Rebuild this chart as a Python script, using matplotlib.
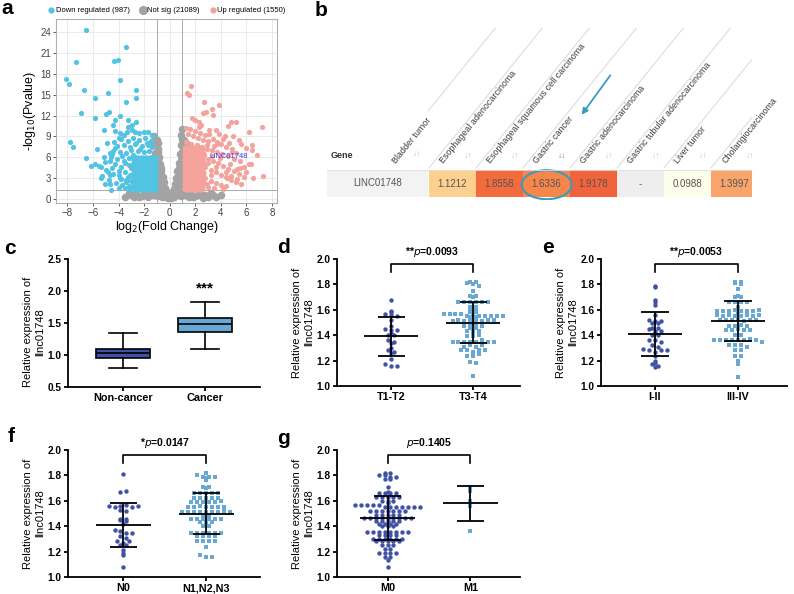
import numpy as np
import matplotlib
matplotlib.use("Agg")
import matplotlib.pyplot as plt
from matplotlib.patches import Rectangle, Ellipse, FancyArrowPatch

plt.rcParams['font.family'] = ['Liberation Sans', 'DejaVu Sans']

W, H = 794, 594

# ---------------- panel a: volcano ----------------
down_x = [-6.58, -3.42, -7.36, -4.36, -4.05, -8.1, -7.85, -3.87, -6.73, -2.62, -4.86, -2.64, -5.84,
          -3.45, -6.94, -5.82, -4.98, -4.75, -4.26, -3.87, -3.27, -2.64, -2.98, -5.17, -4.44, -7.8,
          -7.56, -6.55, -5.72, -4.9, -6.16, -5.88, -5.56, -5.4, -5.06, -5.17, -5.3, -5.38, -4.65,
          -4.78, -5.04, -4.65, -4.62, -4.0, -3.84, -3.42, -4.65, -4.26, -4.39, -4.0, -3.61, -3.34,
          -2.95, -2.44, -2.05, -1.66, -1.39,
          -3.8, -3.3, -2.9, -2.4, -1.9, -1.5, -4.1, -3.6, -3.1, -2.7, -2.2, -1.7, -1.4, -4.4, -3.9,
          -3.4, -3.0, -2.5, -2.0, -1.6, -4.6, -4.1, -3.7, -3.2, -2.9, -3.5, -4.3, -3.8, -3.2, -4.0,
          -3.5, -3.1, -4.4, -3.9, -3.4, -3.0, -4.2, -3.7, -3.2, -4.0, -3.5, -3.1, -4.8, -4.5, -5.0,
          -4.7, -3.3, -3.9, -4.3, -2.7, -3.6, -3.0, -2.3, -1.8, -4.5, -3.3, -2.6]
down_y = [24.3, 21.9, 19.7, 19.8, 20.0, 17.2, 16.5, 17.05, 15.7, 15.7, 15.2, 14.5, 14.5, 14.0, 12.4,
          11.7, 12.2, 12.5, 11.35, 11.9, 11.35, 11.0, 10.7, 9.9, 10.6, 8.2, 7.4, 5.9, 7.2, 8.0, 4.8,
          5.07, 4.78, 4.6, 5.36, 6.08, 3.26, 2.97, 3.45, 2.69, 2.11, 2.11, 1.34, 3.45, 2.87, 2.49,
          6.57, 7.28, 8.23, 8.72, 9.2, 9.67, 9.91, 9.44, 9.67, 9.67, 9.2,
          8.6, 8.4, 8.8, 8.5, 8.7, 8.4, 7.6, 7.7, 7.4, 7.9, 7.6, 7.7, 7.5, 6.9, 6.8, 6.6, 7.0, 6.9,
          6.7, 6.9, 6.0, 5.7, 6.1, 5.9, 6.3, 5.2, 5.0, 4.6, 4.9, 4.0, 3.8, 3.5, 3.6, 3.0, 2.7, 2.5,
          2.3, 2.0, 1.8, 1.6, 1.5, 1.4, 3.9, 4.4, 4.1, 5.4, 10.3, 9.5, 9.7, 9.6, 5.5, 4.4, 7.2,
          8.1, 6.4, 3.2, 8.0]
# solid core of down-regulated genes
down_core_x = [-2.75, -2.45, -2.15, -1.85, -1.55, -1.25, -2.7, -2.4, -2.1, -1.8, -1.5, -1.2,
               -2.75, -2.45, -2.15, -1.85, -1.55, -1.25, -2.7, -2.4, -2.1, -1.8, -1.5, -1.2,
               -2.75, -2.45, -2.15, -1.85, -1.55, -1.25, -2.7, -2.4, -2.1, -1.8, -1.5, -1.2,
               -2.75, -2.45, -2.15, -1.85, -1.55, -1.25]
down_core_y = [1.6, 1.6, 1.6, 1.6, 1.6, 1.6, 2.3, 2.3, 2.3, 2.3, 2.3, 2.3,
               3.0, 3.0, 3.0, 3.0, 3.0, 3.0, 3.7, 3.7, 3.7, 3.7, 3.7, 3.7,
               4.4, 4.4, 4.4, 4.4, 4.4, 4.4, 5.1, 5.1, 5.1, 5.1, 5.1, 5.1,
               5.8, 5.8, 5.8, 5.8, 5.8, 5.8]

up_x = [1.66, 1.34, 1.52, 2.67, 3.84, 3.32, 2.85, 2.62, 3.37, 1.76, 1.99, 2.3, 2.46, 4.8, 5.22,
        4.54, 7.2, 6.19, 3.06, 3.89, 4.2, 4.94, 5.43, 5.61, 6.45, 6.45, 4.62, 3.73, 5.53, 6.0, 6.19,
        6.37, 7.3, 5.3, 4.78, 4.47,
        1.3, 1.6, 2.0, 2.4, 2.8, 1.4, 1.8, 2.2, 2.6, 3.0, 3.4, 4.0, 4.4, 4.9, 5.2, 1.3, 1.7, 2.1,
        2.5, 2.9, 3.3, 3.7, 4.1, 4.6, 5.0, 5.5, 2.7, 3.0, 3.4, 3.8, 4.2, 4.6, 5.0, 5.4, 5.8, 2.8,
        3.2, 3.6, 4.0, 4.4, 4.8, 5.2, 5.6, 2.8, 3.2, 3.6, 4.0, 4.4, 3.0, 3.5, 4.2, 2.9, 3.1, 3.6,
        2.3, 4.3, 3.5, 6.8, 6.0, 5.8, 6.5, 3.3, 3.9, 4.7, 3.0, 3.6, 4.4, 3.2, 2.9, 3.7, 4.9, 5.3]
up_y = [16.2, 15.3, 15.0, 14.0, 13.5, 12.9, 12.5, 12.3, 12.1, 11.7, 11.3, 11.0, 10.6, 11.0, 11.06,
        10.5, 10.4, 9.67, 9.96, 9.3, 8.62, 9.1, 8.43, 7.86, 7.76, 7.04, 8.0, 8.23, 4.5, 3.92, 5.07,
        4.98, 3.35, 2.83, 3.35, 2.97,
        10.2, 10.0, 9.8, 9.5, 9.2, 9.3, 9.0, 8.8, 8.5, 8.3, 8.6, 7.9, 7.5, 7.2, 6.6, 8.2, 7.9, 7.7,
        7.4, 7.2, 7.0, 6.8, 6.4, 6.1, 5.7, 5.5, 6.3, 5.8, 5.5, 5.2, 4.8, 4.3, 4.0, 3.6, 3.1, 4.6,
        4.2, 3.9, 3.5, 3.1, 2.7, 2.4, 2.2, 3.0, 2.6, 2.3, 2.0, 1.8, 1.7, 1.5, 1.4, 2.2, 9.4, 9.9,
        10.3, 9.0, 7.6, 6.3, 7.3, 4.6, 3.0, 6.2, 5.9, 5.0, 5.1, 4.6, 3.8, 3.4, 7.8, 7.9, 6.7, 4.3]
# solid core of up-regulated genes
up_core_x = [1.25, 1.55, 1.85, 2.15, 2.45, 1.3, 1.6, 1.9, 2.2, 2.5, 1.25, 1.55, 1.85, 2.15, 2.45,
             1.3, 1.6, 1.9, 2.2, 2.5, 1.25, 1.55, 1.85, 2.15, 2.45, 1.3, 1.6, 1.9, 2.2, 2.5,
             1.25, 1.55, 1.85, 2.15, 2.45, 1.3, 1.6, 1.9, 2.2, 2.5, 1.25, 1.55, 1.85, 2.15, 2.45]
up_core_y = [1.6, 1.6, 1.6, 1.6, 1.6, 2.3, 2.3, 2.3, 2.3, 2.3, 3.0, 3.0, 3.0, 3.0, 3.0,
             3.7, 3.7, 3.7, 3.7, 3.7, 4.4, 4.4, 4.4, 4.4, 4.4, 5.1, 5.1, 5.1, 5.1, 5.1,
             5.8, 5.8, 5.8, 5.8, 5.8, 6.5, 6.5, 6.5, 6.5, 6.5, 7.2, 7.2, 7.2, 7.2, 7.2]

ns_x = [-1.2, -1.0, -1.1, -0.9, -1.15, -0.85, -1.05, -0.75, -1.0, -0.65, -0.9, -0.55, -0.8, -0.45,
        -1.0, -0.7, -0.35, -1.1, -0.6, -0.25, -0.9,
        1.0, 0.9, 1.1, 0.85, 1.05, 0.8, 1.0, 0.7, 0.95, 0.6, 0.85, 0.5, 0.8, 0.4, 1.0, 0.6, 0.3,
        1.1, 0.5, 0.2, 0.9,
        -1.25, -1.25, -1.2, -1.2, -0.95, -0.95, -1.0, -0.75, -0.6, -0.5, -0.4, -0.8, -1.2, -0.9,
        -0.5, -0.3, -1.15, -0.7, -0.9, -0.8,
        1.25, 1.25, 1.2, 1.2, 0.95, 0.95, 1.0, 0.75, 0.6, 0.5, 0.4, 0.8, 1.2, 0.9, 0.5, 0.3, 1.15,
        0.7, 0.9, 0.8,
        -3.5, -3.0, -2.6, -2.2, -1.8, -1.5, -1.3, -0.6, 0.0, 0.2, -0.2, 0.6, 1.3, 1.6, 2.0, 2.4,
        2.8, 3.2, 3.6, 4.0, -2.8, 2.6, -1.7, 1.8, -1.2, 1.25, -2.4, -2.0, -1.6, 1.5, 2.2, 3.0,
        -3.2, 3.4, -0.1, 0.1]
ns_y = [9.0, 8.5, 7.8, 7.2, 6.6, 6.0, 5.4, 5.0, 4.5, 4.0, 3.6, 3.2, 2.8, 2.4, 2.2, 1.8, 1.6, 1.5,
        1.2, 1.0, 1.0,
        10.0, 9.2, 8.5, 7.8, 7.0, 6.4, 5.8, 5.2, 4.6, 4.0, 3.5, 3.0, 2.6, 2.2, 2.0, 1.7, 1.4, 1.3,
        1.0, 0.8, 0.9,
        8.0, 6.0, 4.0, 2.8, 8.0, 6.8, 3.2, 3.6, 2.8, 1.9, 1.2, 1.4, 0.6, 0.4, 0.7, 0.3, 2.0, 4.4,
        5.6, 3.0,
        8.0, 6.0, 4.0, 2.8, 8.6, 6.8, 3.2, 3.6, 2.8, 1.9, 1.2, 1.4, 0.6, 0.4, 0.7, 0.3, 2.0, 4.4,
        5.6, 3.0,
        0.3, 0.6, 0.9, 0.4, 0.8, 1.1, 0.5, 0.3, 0.2, 0.4, 0.5, 0.5, 0.6, 1.0, 0.4, 0.8, 0.5, 0.9,
        0.3, 0.6, 0.2, 0.15, 0.2, 0.2, 1.0, 1.1, 0.2, 0.9, 0.5, 0.3, 0.6, 0.2, 0.9, 0.6, 0.1, 0.1]

legend_labels = ["Down regulated (987)", "Not sig (21089)", "Up regulated (1550)"]
label_gene = "LINC01748"
label_gene_xy = (3.1, 5.85)

# ---------------- panel b: table ----------------
tissues = ["Bladder tumor", "Esophageal adenocarcinoma", "Esophageal squamous cell carcinoma",
           "Gastric cancer", "Gastric adenocarcinoma", "Gastric tubular adenocarcinoma",
           "Liver tumor", "Cholangiocarcinoma"]
cell_values = ["1.1212", "1.8558", "1.6336", "1.9178", "-", "0.0988", "1.3997"]
cell_colors = ["#fdd08f", "#f36b3d", "#f6864a", "#f1633a", "#eeeeee", "#fdfdec", "#f9a46a"]

# ---------------- panel c: boxplot ----------------
box_labels = ["Non-cancer", "Cancer"]
box_med = [1.035, 1.49]
box_q1 = [0.96, 1.36]
box_q3 = [1.10, 1.58]
box_lo = [0.79, 1.09]
box_hi = [1.34, 1.83]

# ---------------- panels d-g: dot plots ----------------
d_labels = ["T1-T2", "T3-T4"]
d1 = [1.68, 1.59, 1.57, 1.58, 1.56, 1.55, 1.52, 1.47, 1.45, 1.44, 1.44, 1.42, 1.40, 1.40, 1.36,
      1.35, 1.34, 1.30, 1.28, 1.27, 1.26, 1.21, 1.17, 1.16, 1.16]
d2 = [1.82, 1.82, 1.81, 1.80, 1.79, 1.75, 1.71, 1.71, 1.70, 1.66, 1.66, 1.66, 1.66, 1.66, 1.66,
      1.62, 1.62, 1.61, 1.61, 1.58, 1.57, 1.57, 1.57, 1.57, 1.58, 1.54, 1.55, 1.55, 1.55, 1.55,
      1.55, 1.55, 1.55, 1.54, 1.51, 1.52, 1.51, 1.51, 1.51, 1.51, 1.52, 1.52, 1.50, 1.47, 1.46,
      1.47, 1.46, 1.47, 1.47, 1.43, 1.43, 1.42, 1.43, 1.39, 1.39, 1.40, 1.35, 1.35, 1.35, 1.35,
      1.35, 1.36, 1.35, 1.35, 1.31, 1.32, 1.31, 1.32, 1.28, 1.28, 1.27, 1.28, 1.28, 1.24, 1.24,
      1.25, 1.19, 1.18, 1.08]
d_mean = [1.39, 1.50]
d_sd = [0.15, 0.165]
d_p = r"**$\it{p}$=0.0093"

e_labels = ["I-II", "III-IV"]
e1 = [1.79, 1.78, 1.68, 1.66, 1.64, 1.56, 1.52, 1.51, 1.50, 1.50, 1.51, 1.46, 1.46, 1.45, 1.43,
      1.43, 1.42, 1.40, 1.40, 1.36, 1.36, 1.35, 1.32, 1.31, 1.29, 1.28, 1.27, 1.28, 1.28, 1.24,
      1.20, 1.17, 1.15, 1.16, 1.18]
e2 = [1.82, 1.82, 1.81, 1.80, 1.76, 1.70, 1.70, 1.71, 1.66, 1.66, 1.66, 1.66, 1.62,
      1.59, 1.59, 1.59, 1.60, 1.59, 1.58, 1.59, 1.59, 1.60, 1.56, 1.55, 1.56, 1.55, 1.55, 1.56,
      1.55, 1.56, 1.52, 1.52, 1.52, 1.52, 1.51, 1.52, 1.52, 1.47, 1.47, 1.48, 1.47, 1.44, 1.44,
      1.45, 1.44, 1.44, 1.40, 1.40, 1.36, 1.36, 1.36, 1.36, 1.36, 1.36, 1.37, 1.36, 1.35, 1.32,
      1.32, 1.32, 1.31, 1.28, 1.28, 1.24, 1.24, 1.20, 1.17, 1.07]
e_mean = [1.41, 1.51]
e_sd = [0.173, 0.157]
e_p = r"**$\it{p}$=0.0053"

f_labels = ["N0", "N1,N2,N3"]
f1 = [1.81, 1.67, 1.68, 1.56, 1.55, 1.56, 1.57, 1.55, 1.56, 1.53, 1.52, 1.45, 1.46, 1.46, 1.44,
      1.42, 1.37, 1.36, 1.35, 1.35, 1.32, 1.31, 1.28, 1.27, 1.28, 1.25, 1.25, 1.19, 1.21, 1.17,
      1.08]
f2 = [1.82, 1.80, 1.79, 1.79, 1.79, 1.78, 1.76, 1.71, 1.70, 1.71, 1.66, 1.66, 1.66, 1.66, 1.66,
      1.62, 1.62, 1.62, 1.62, 1.62, 1.59, 1.59, 1.59, 1.59, 1.59, 1.60, 1.55, 1.55, 1.56, 1.55,
      1.55, 1.55, 1.55, 1.51, 1.51, 1.51, 1.51, 1.51, 1.51, 1.51, 1.52, 1.51, 1.46, 1.46, 1.46,
      1.47, 1.46, 1.47, 1.46, 1.46, 1.43, 1.43, 1.43, 1.40, 1.40, 1.35, 1.35, 1.35, 1.35, 1.35,
      1.35, 1.32, 1.32, 1.32, 1.32, 1.28, 1.28, 1.28, 1.28, 1.24, 1.17, 1.16, 1.16]
f_mean = [1.41, 1.50]
f_sd = [0.172, 0.159]
f_p = r"*$\it{p}$=0.0147"

g_labels = ["M0", "M1"]
g1 = [1.82, 1.82, 1.80, 1.80, 1.79, 1.79, 1.77, 1.77, 1.71, 1.66, 1.66, 1.67, 1.66, 1.66,
      1.63, 1.63, 1.63, 1.63, 1.63, 1.60, 1.60, 1.60, 1.57, 1.57, 1.57, 1.58, 1.57, 1.57,
      1.55, 1.55, 1.55, 1.55, 1.55, 1.55, 1.55, 1.52, 1.52, 1.52, 1.52, 1.52, 1.52, 1.52,
      1.49, 1.49, 1.49, 1.49, 1.49, 1.465, 1.465, 1.465, 1.465, 1.465, 1.465, 1.465, 1.465, 1.465,
      1.44, 1.44, 1.44, 1.44, 1.44, 1.42, 1.42, 1.42, 1.42, 1.40, 1.40, 1.40,
      1.355, 1.355, 1.355, 1.355, 1.355, 1.355, 1.355, 1.355, 1.33, 1.33, 1.33, 1.33,
      1.30, 1.30, 1.30, 1.30, 1.30, 1.30, 1.28, 1.28, 1.28, 1.28, 1.28, 1.25, 1.25, 1.25,
      1.22, 1.22, 1.19, 1.19, 1.19, 1.19, 1.16, 1.16, 1.13, 1.08]
g2 = [1.705, 1.68, 1.595, 1.556, 1.366]
g_mean = [1.465, 1.58]
g_sd = [0.17, 0.137]
g_p = r"$\it{p}$=0.1405"

DARK = "#3f52a5"
LIGHT = "#6aa8d4"
CYAN = "#52c3e2"
GREY = "#a3a3a3"
PINK = "#f4a29b"


def px_axes(fig, l, t, r, b):
    return fig.add_axes([l / W, 1 - b / H, (r - l) / W, (b - t) / H])


def swarm(ys, center, h=0.02, dx=0.072):
    ys = np.asarray(ys, dtype=float)
    xs = np.empty(len(ys))
    bins = np.round(ys / h)
    for b in np.unique(bins):
        idx = np.where(bins == b)[0]
        n = len(idx)
        xs[idx] = center + (np.arange(n) - (n - 1) / 2) * dx
    return xs


def style_prism(ax, labels, ylim, yticks, label_y=0.5):
    for s in ["top", "right"]:
        ax.spines[s].set_visible(False)
    for s in ["left", "bottom"]:
        ax.spines[s].set_linewidth(1.3)
    ax.set_ylim(*ylim)
    ax.set_yticks(yticks)
    ax.set_yticklabels(["%.1f" % v for v in yticks], fontweight="bold", fontsize=7.3)
    ax.set_xticks([1, 2])
    ax.set_xticklabels(labels, fontweight="bold", fontsize=7.8)
    ax.tick_params(width=1.3, length=3, pad=1.5)
    ax.set_ylabel("Relative expression of\nllnc01748", fontsize=8)
    width_px = ax.get_position().width * W
    ax.yaxis.set_label_coords(-23 / width_px, label_y)


def dot_panel(ax, g1v, g2v, means, sds, labels, ptext, xlim):
    ax.scatter(swarm(g1v, 1), g1v, s=10, marker="o", color=DARK, lw=0, zorder=2)
    ax.scatter(swarm(g2v, 2), g2v, s=9, marker="s", color=LIGHT, lw=0, zorder=2)
    for pos, m, sd in zip([1, 2], means, sds):
        ax.hlines(m, pos - 0.33, pos + 0.33, color="k", lw=1.3, zorder=3)
        ax.hlines([m - sd, m + sd], pos - 0.165, pos + 0.165, color="k", lw=1.3, zorder=3)
        ax.vlines(pos, m - sd, m + sd, color="k", lw=1.3, zorder=3)
    ax.plot([1, 1, 2, 2], [1.9, 1.96, 1.96, 1.9], color="k", lw=1.2, clip_on=False)
    ax.text(1.5, 2.0, ptext, ha="center", va="bottom", fontsize=7.5, fontweight="bold")
    ax.set_xlim(*xlim)
    style_prism(ax, labels, (1.0, 2.0), [1.0, 1.2, 1.4, 1.6, 1.8, 2.0])


fig = plt.figure(figsize=(W / 100, H / 100), dpi=100)

# ---- a ----
ax = px_axes(fig, 56, 19, 277, 203)
ax.scatter(ns_x, ns_y, s=30, color=GREY, lw=0, label=legend_labels[1], zorder=2)
ax.scatter(down_core_x, down_core_y, s=36, color=CYAN, lw=0, zorder=3)
ax.scatter(up_core_x, up_core_y, s=36, color=PINK, lw=0, zorder=3)
ax.scatter(down_x, down_y, s=14, color=CYAN, lw=0, label=legend_labels[0], zorder=3)
ax.scatter(up_x, up_y, s=14, color=PINK, lw=0, label=legend_labels[2], zorder=3)
ax.text(label_gene_xy[0], label_gene_xy[1], label_gene, color="#3a3ff0", fontsize=5.5, zorder=4)
ax.axvline(-1, color="#aaaaaa", lw=0.7, zorder=1)
ax.axvline(1, color="#aaaaaa", lw=0.7, zorder=1)
ax.axhline(1.3, color="#aaaaaa", lw=0.7, zorder=1)
ax.set_xlim(-8.9, 8.4)
ax.set_ylim(-0.6, 25.9)
ax.set_xticks(range(-8, 9, 2))
ax.set_yticks(range(0, 25, 3))
ax.grid(color="#e6e6e6", lw=0.6)
ax.set_axisbelow(True)
for s in ax.spines.values():
    s.set_color("#b0b0b0")
    s.set_linewidth(0.8)
ax.tick_params(labelsize=7, colors="#444444", length=2, width=0.6, pad=1.5)
ax.set_xlabel(r"log$_2$(Fold Change)", fontsize=9, labelpad=1)
ax.set_ylabel(r"-log$_{10}$(Pvalue)", fontsize=9, labelpad=2)
h_, l_ = ax.get_legend_handles_labels()
order = [1, 0, 2]
ax.legend([h_[i] for i in order], [l_[i] for i in order], loc="lower center",
          bbox_to_anchor=(0.5, 1.0), ncol=3, frameon=False, fontsize=5.5, markerscale=1.2,
          handletextpad=0.1, columnspacing=1.2, borderaxespad=0.2, handlelength=1.0)

# ---- b ----
axb = px_axes(fig, 300, 0, 794, 200)
axb.set_xlim(300, 794)
axb.set_ylim(200, 0)
axb.axis("off")
clip = Rectangle((428, 28), 324, 142, transform=axb.transData)
axb.add_patch(Rectangle((327, 170), 101, 27, color="#f3f3f3", lw=0))
axb.text(378, 183.5, label_gene, ha="center", va="center", fontsize=7, color="#555555")
axb.text(331, 155, "Gene", ha="left", va="center", fontsize=6.5, fontweight="bold", color="#333333")
axb.text(417, 155, "↓↑", ha="center", va="center", fontsize=6, color="#c0c0c0")
cw = 47
slope = np.tan(np.radians(51))
for i, name in enumerate(tissues):
    left = 382 + cw * i
    ln, = axb.plot([left, left + 140 / slope], [168, 28], color="#dddddd", lw=0.8)
    ln.set_clip_path(clip)
    t = axb.text(left + 16, 165, name, rotation=51, rotation_mode="anchor", ha="left",
                 va="bottom", fontsize=6.4, color="#3c3c3c")
    t.set_clip_path(clip)
    if i > 0:
        arrow_txt = "↓↓" if name == "Gastric cancer" else "↓↑"
        tc = "#777777" if name == "Gastric cancer" else "#c0c0c0"
        s_t = axb.text(left + 39, 157, arrow_txt, ha="center", va="center", fontsize=6, color=tc)
        s_t.set_clip_path(clip)
for i, (v, c) in enumerate(zip(cell_values, cell_colors)):
    left = 429 + cw * i
    w = min(cw, 752 - left)
    axb.add_patch(Rectangle((left, 170), w, 27, color=c, lw=0))
    axb.text(left + cw / 2, 184, v, ha="center", va="center", fontsize=7, color="#555555")
axb.plot([327, 752], [170, 170], color="#e0e0e0", lw=0.6)
axb.add_patch(Ellipse((546.7, 184.7), 50, 29, fill=False, edgecolor="#3a9bbf", lw=1.5))
axb.add_patch(FancyArrowPatch((612, 73), (580, 117), arrowstyle="-|>", mutation_scale=9,
                              color="#3a9bbf", lw=1.3))

# ---- c ----
axc = px_axes(fig, 68, 259, 260, 387)
stats = []
for i in range(2):
    stats.append(dict(med=box_med[i], q1=box_q1[i], q3=box_q3[i], whislo=box_lo[i],
                      whishi=box_hi[i], label=box_labels[i]))
bp = axc.bxp(stats, positions=[1, 2], widths=0.66, patch_artist=True, showfliers=False,
             capwidths=0.33,
             boxprops=dict(edgecolor="k", linewidth=1.2),
             medianprops=dict(color="k", linewidth=1.2),
             whiskerprops=dict(color="k", linewidth=1.2),
             capprops=dict(color="k", linewidth=1.2))
for patch, col in zip(bp["boxes"], [DARK, LIGHT]):
    patch.set_facecolor(col)
axc.text(2, 1.93, "***", ha="center", va="bottom", fontsize=11, fontweight="bold")
axc.set_xlim(0.33, 2.67)
style_prism(axc, box_labels, (0.5, 2.5), [0.5, 1.0, 1.5, 2.0, 2.5], label_y=0.43)

# ---- d-g ----
axd = px_axes(fig, 337, 259, 520, 386)
dot_panel(axd, d1, d2, d_mean, d_sd, d_labels, d_p, (0.34, 2.57))
axe = px_axes(fig, 601, 259, 787, 386)
dot_panel(axe, e1, e2, e_mean, e_sd, e_labels, e_p, (0.35, 2.59))
axf = px_axes(fig, 68, 450, 260, 577)
dot_panel(axf, f1, f2, f_mean, f_sd, f_labels, f_p, (0.33, 2.65))
axg = px_axes(fig, 337, 450, 520, 577)
dot_panel(axg, g1, g2, g_mean, g_sd, g_labels, g_p, (0.39, 2.6))

# panel letters
for letter, x, y in [("a", 7, 9), ("b", 321, 10), ("c", 10, 248), ("d", 283, 247),
                     ("e", 548, 247), ("f", 11, 437), ("g", 283, 439)]:
    fig.text(x / W, 1 - y / H, letter, ha="center", va="center", fontsize=15, fontweight="bold")

fig.savefig("out.png", dpi=100)
